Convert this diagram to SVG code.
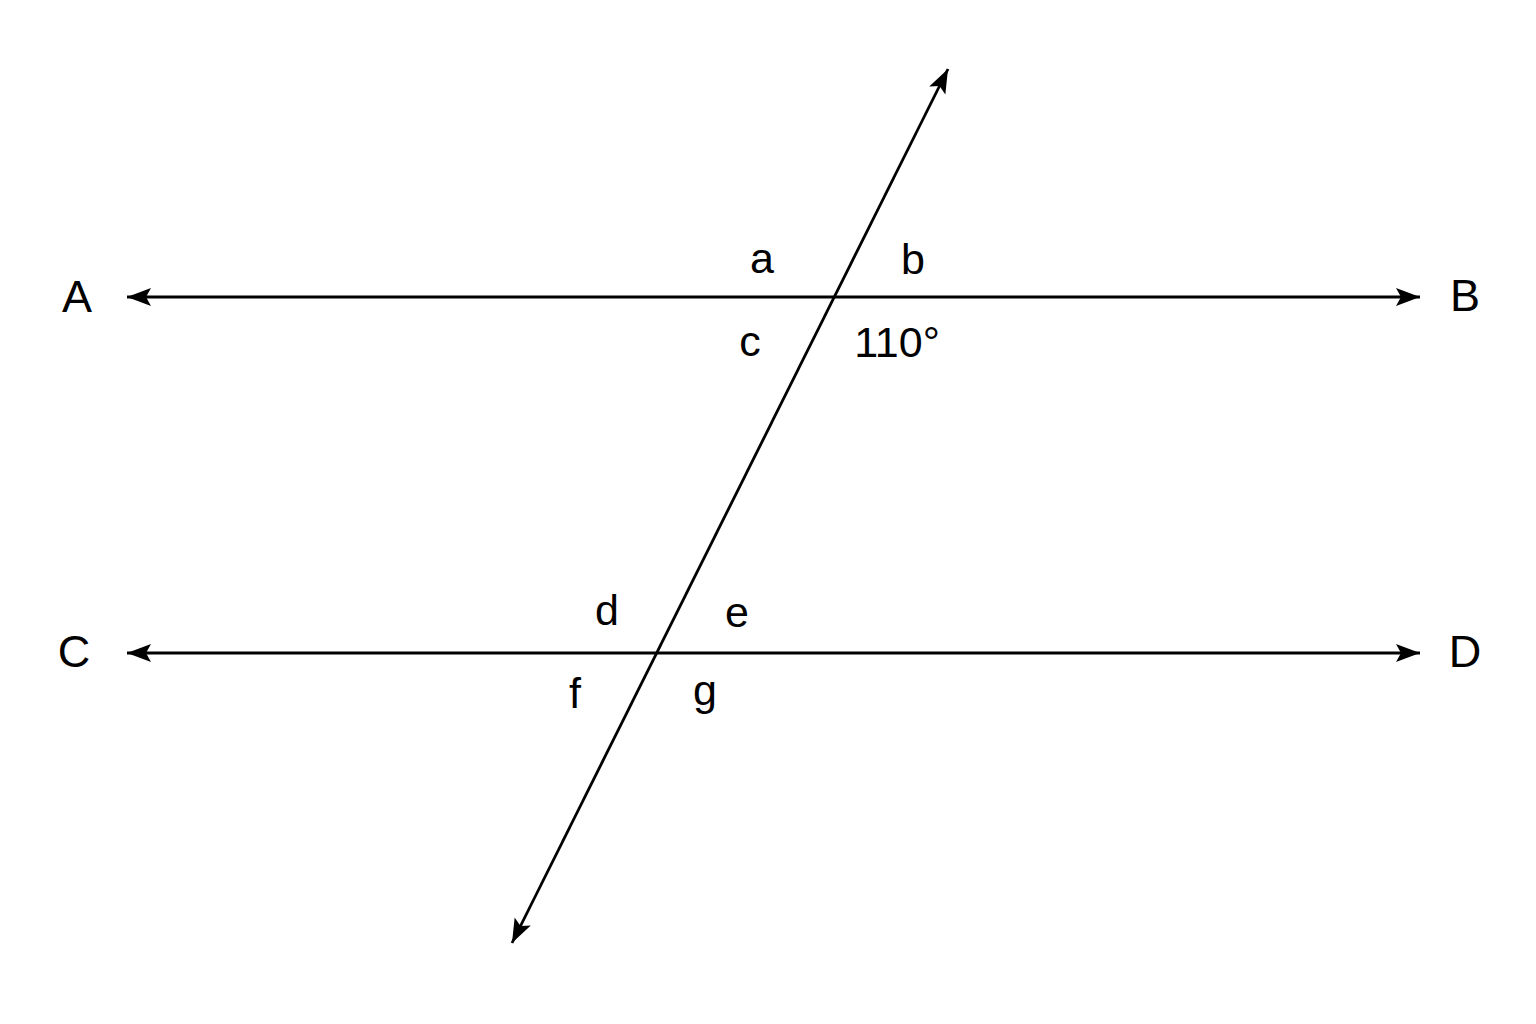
<svg xmlns="http://www.w3.org/2000/svg" width="1536" height="1024" viewBox="0 0 1536 1024">
<style>
.ln{stroke:#000;stroke-width:2.8;fill:none}
.t{font-family:"Liberation Sans",Arial,sans-serif;fill:#000;text-anchor:middle}
.cap{font-size:45px}
.lc{font-size:43px}
</style>
<defs>
<marker id="ah" markerUnits="userSpaceOnUse" markerWidth="26" markerHeight="22" viewBox="0 0 26 22" refX="24" refY="11" orient="auto-start-reverse">
<path d="M0,2 L24,11 L0,20 L5,11 z" fill="#000"/>
</marker>
</defs>
<rect width="1536" height="1024" fill="#fff"/>
<g id="connectors">
<line id="lineAB" class="ln" x1="127" y1="297" x2="1420" y2="297" marker-start="url(#ah)" marker-end="url(#ah)"/>
<line id="lineCD" class="ln" x1="127" y1="653" x2="1420" y2="653" marker-start="url(#ah)" marker-end="url(#ah)"/>
<line id="transversal" class="ln" x1="512" y1="943" x2="948" y2="69" marker-start="url(#ah)" marker-end="url(#ah)"/>
</g>
<g id="label-A"><text class="t cap" x="77" y="312">A</text></g>
<g id="label-B"><text class="t cap" x="1465" y="311">B</text></g>
<g id="label-C"><text class="t cap" x="74" y="667">C</text></g>
<g id="label-D"><text class="t cap" x="1465" y="667">D</text></g>
<g id="label-a"><text class="t lc" x="762" y="273">a</text></g>
<g id="label-b"><text class="t lc" x="913" y="274">b</text></g>
<g id="label-c"><text class="t lc" x="750" y="356">c</text></g>
<g id="label-110"><text class="t lc" x="897" y="357">110°</text></g>
<g id="label-d"><text class="t lc" x="607" y="625">d</text></g>
<g id="label-e"><text class="t lc" x="737" y="627">e</text></g>
<g id="label-f"><text class="t lc" x="575" y="708">f</text></g>
<g id="label-g"><text class="t lc" x="705" y="705">g</text></g>
</svg>
